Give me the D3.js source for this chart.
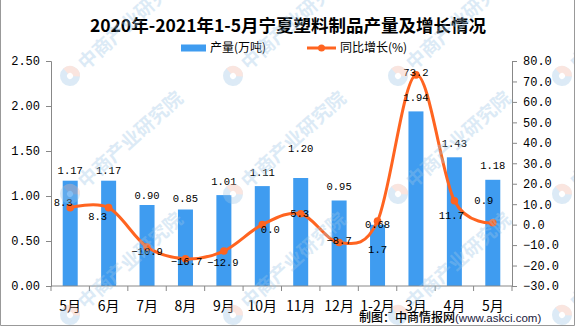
<!DOCTYPE html>
<html><head><meta charset="utf-8">
<script src="https://cdn.jsdelivr.net/npm/d3@7/dist/d3.min.js"></script>
<style>
html,body{margin:0;padding:0;background:#fff;}
svg{display:block;}
</style></head>
<body>
<script>
// ---- data ----
const categories = ["5月","6月","7月","8月","9月","10月","11月","12月","1-2月","3月","4月","5月"];
const output = [1.17,1.17,0.90,0.85,1.01,1.11,1.20,0.95,0.68,1.94,1.43,1.18];
const growth = [8.3,8.3,-10.9,-16.7,-12.9,0.0,5.3,-8.7,1.7,73.2,11.7,0.9];
const leftTicks = [0,0.5,1.0,1.5,2.0,2.5];
const rightTicks = [-30,-20,-10,0,10,20,30,40,50,60,70,80];
const title = "2020年-2021年1-5月宁夏塑料制品产量及增长情况";
const legendNames = ["产量(万吨)","同比增长(%)"];

// ---- label placement (layout only) ----
const barLabelDy = [-10,-10,-10,-11,-14,-14,-30,-14,0,-14,-14,-14];
const lineLabelOffset = [[-7,-5],[-11,9],[0,4],[1,3],[-1,11],[8,5],[-1,0],[0,-2],[0,28],[0,-3],[-3,15],[-9,-22]];

const W = 575, H = 326;
const M = {left:51, right:63, top:61, bottom:40};
const x0 = M.left, x1 = W - M.right, yTop = M.top, yBot = H - M.bottom;

const svg = d3.select("body").append("svg").attr("width", W).attr("height", H);

const x = d3.scaleBand().domain(d3.range(categories.length)).range([x0, x1]);
const yL = d3.scaleLinear().domain([0, 2.5]).range([yBot, yTop]);
const yR = d3.scaleLinear().domain([-30, 80]).range([yBot, yTop]);

const barColor = "#3f9cf0", lineColor = "#ff6420", axisColor = "#888";
const monoFont = "'Liberation Mono', 'DejaVu Sans Mono', monospace";
const cjkFont = "'Noto Sans CJK SC', sans-serif";

// title
svg.append("text").attr("x", 288).attr("y", 26).attr("dy", "0.35em")
  .attr("text-anchor", "middle").attr("font-family", cjkFont).attr("font-weight", "bold")
  .attr("font-size", 17.5).attr("fill", "#000").text(title);

// legend
const lg = svg.append("g");
lg.append("rect").attr("x", 181).attr("y", 44.5).attr("width", 25).attr("height", 7).attr("fill", barColor);
lg.append("text").attr("x", 210).attr("y", 48).attr("dy", "0.35em").attr("font-family", cjkFont)
  .attr("font-size", 12).attr("fill", "#000").text(legendNames[0]);
lg.append("line").attr("x1", 307).attr("x2", 336).attr("y1", 48).attr("y2", 48)
  .attr("stroke", lineColor).attr("stroke-width", 3);
lg.append("circle").attr("cx", 321.5).attr("cy", 48).attr("r", 3.5).attr("fill", lineColor);
lg.append("text").attr("x", 340).attr("y", 48).attr("dy", "0.35em").attr("font-family", cjkFont)
  .attr("font-size", 12).attr("fill", "#000").text(legendNames[1]);

// bars
const bw = 15;
svg.append("g").selectAll("rect").data(output).join("rect")
  .attr("x", (d,i) => x(i) + x.bandwidth()/2 - bw/2)
  .attr("y", d => yL(d)).attr("width", bw).attr("height", d => yL(0) - yL(d))
  .attr("fill", barColor);

// axes
function styleAxis(g){
  g.selectAll("path.domain").attr("stroke", axisColor);
  g.selectAll(".tick line").attr("stroke", axisColor);
  g.selectAll(".tick text").attr("fill", "#000").attr("font-family", monoFont).attr("font-size", 12);
}
const axL = svg.append("g").attr("transform", `translate(${x0},0)`)
  .call(d3.axisLeft(yL).tickValues(leftTicks).tickFormat(d3.format(".2f")).tickSizeOuter(0).tickSize(5).tickPadding(6));
styleAxis(axL);
const axR = svg.append("g").attr("transform", `translate(${x1},0)`)
  .call(d3.axisRight(yR).tickValues(rightTicks).tickFormat(d3.format(".1f")).tickSizeOuter(0).tickSize(5).tickPadding(6));
styleAxis(axR);
// bottom axis: ticks at band boundaries
const axB = svg.append("g").attr("transform", `translate(0,${yBot})`);
axB.append("line").attr("x1", x0).attr("x2", x1).attr("y1", 0).attr("y2", 0).attr("stroke", axisColor);
axB.selectAll("line.tk").data(d3.range(categories.length + 1)).join("line").attr("class","tk")
  .attr("x1", i => x0 + i * x.step()).attr("x2", i => x0 + i * x.step())
  .attr("y1", 0).attr("y2", 5).attr("stroke", axisColor);
axB.selectAll("text").data(categories).join("text")
  .attr("x", (d,i) => x(i) + x.bandwidth()/2).attr("y", 20).attr("dy", "0.35em")
  .attr("text-anchor", "middle").attr("font-family", cjkFont).attr("font-size", 14).attr("fill", "#000")
  .text(d => d);

// line
const px = i => x(i) + x.bandwidth()/2;
const line = d3.line().x((d,i) => px(i)).y(d => yR(d)).curve(d3.curveCardinal.tension(0));
svg.append("path").datum(growth).attr("d", line).attr("fill", "none")
  .attr("stroke", lineColor).attr("stroke-width", 3);
svg.append("g").selectAll("circle").data(growth).join("circle")
  .attr("cx", (d,i) => px(i)).attr("cy", d => yR(d)).attr("r", 3.8).attr("fill", lineColor);

// bar labels
svg.append("g").selectAll("text").data(output).join("text")
  .attr("x", (d,i) => px(i)).attr("y", (d,i) => yL(d) + barLabelDy[i]).attr("dy", "0.35em")
  .attr("text-anchor", "middle").attr("font-family", monoFont).attr("font-size", 10.5).attr("fill", "#000")
  .text(d => d3.format(".2f")(d));
// line labels
svg.append("g").selectAll("text").data(growth).join("text")
  .attr("x", (d,i) => px(i) + lineLabelOffset[i][0]).attr("y", (d,i) => yR(d) + lineLabelOffset[i][1]).attr("dy", "0.35em")
  .attr("text-anchor", "middle").attr("font-family", monoFont).attr("font-size", 10.5).attr("fill", "#000")
  .text(d => d3.format(".1f")(d));

// watermarks (drawn before footer so footer stays crisp)
const wmX = [70, 233, 398, 562], wmY = [76, 194, 315];
const wm = svg.append("g").attr("pointer-events", "none");
wmY.forEach(yy => wmX.forEach(xx => {
  const g = wm.append("g").attr("transform", `translate(${xx},${yy}) rotate(-42)`).attr("opacity", 0.35);
  g.append("circle").attr("r", 10).attr("fill", "#9cc6e6");
  g.append("path").attr("d", d3.arc()({innerRadius:0, outerRadius:10, startAngle:0, endAngle:Math.PI*0.75})).attr("fill", "#f3b7a5");
  g.append("circle").attr("r", 3).attr("fill", "#fff");
  g.append("text").attr("x", 15).attr("y", 0).attr("dy", "0.35em")
    .attr("font-family", cjkFont).attr("font-weight", "bold").attr("font-size", 19)
    .attr("fill", "#9cc6e6").text("中商产业研究院");
}));

// footer
const ft = svg.append("text").attr("x", 359).attr("y", 318).attr("dy", "0.35em").attr("font-size", 12);
ft.append("tspan").attr("font-family", cjkFont).attr("font-weight", 500).attr("fill", "#000").text("制图：中商情报网");
ft.append("tspan").attr("font-family", "'Liberation Sans', Arial, sans-serif").attr("font-size", 11.5).attr("fill", "#1a1a40").text("(www.askci.com)");

// frame
svg.append("path").attr("d", `M0.5,0 V${H-0.5} H${W-0.5} V0`).attr("fill", "none").attr("stroke", "#999");
</script>
</body></html>
